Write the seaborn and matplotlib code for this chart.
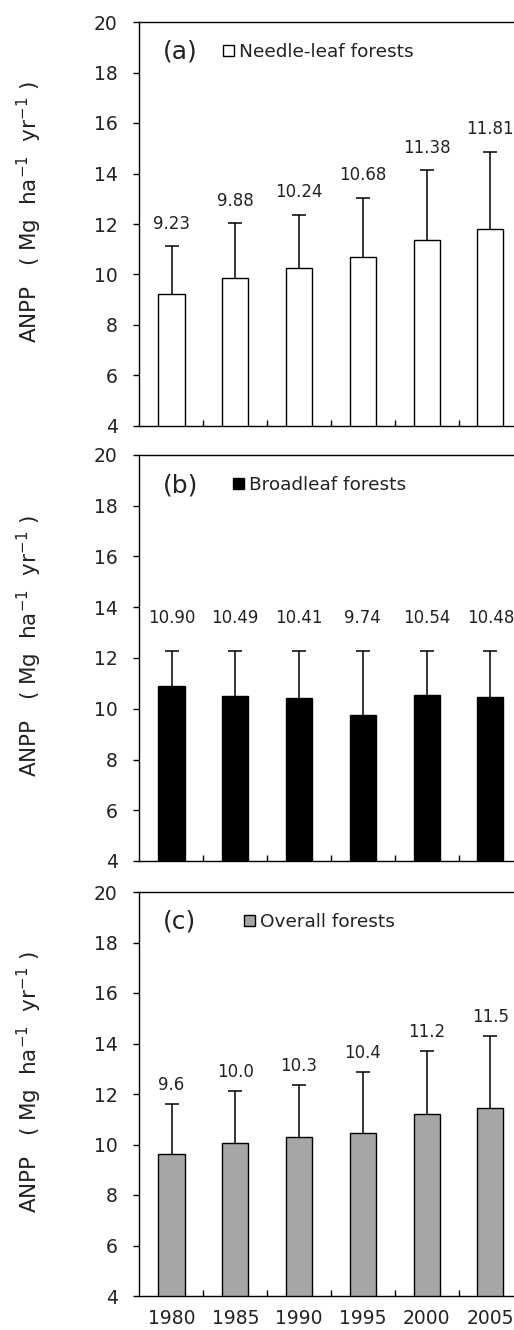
import numpy as np
import pandas as pd
import seaborn as sns
import matplotlib
matplotlib.use("Agg")
import matplotlib.pyplot as plt
from matplotlib.patches import Patch
from matplotlib.ticker import FixedLocator

sns.set_theme(style="ticks")
plt.rcParams["font.family"] = ["DejaVu Sans", "Noto Sans CJK SC"]

# data
years = ["1980", "1985", "1990", "1995", "2000", "2005"]

needle_mean = [9.23, 9.88, 10.24, 10.68, 11.38, 11.81]
needle_err = [1.88, 2.15, 2.12, 2.35, 2.74, 3.06]
needle_text = ["9.23", "9.88", "10.24", "10.68", "11.38", "11.81"]

broad_mean = [10.90, 10.49, 10.41, 9.74, 10.54, 10.48]
broad_err = [1.38, 1.79, 1.87, 2.54, 1.74, 1.80]
broad_text = ["10.90", "10.49", "10.41", "9.74", "10.54", "10.48"]

overall_mean = [9.64, 10.04, 10.30, 10.45, 11.20, 11.45]
overall_err = [1.98, 2.08, 2.07, 2.43, 2.51, 2.84]
overall_text = ["9.6", "10.0", "10.3", "10.4", "11.2", "11.5"]

panels = [
    ("(a)", "Needle-leaf forests", needle_mean, needle_err, needle_text, "white", 0.224, 0.9),
    ("(b)", "Broadleaf forests", broad_mean, broad_err, broad_text, "black", 0.251, 1.28),
    ("(c)", "Overall forests", overall_mean, overall_err, overall_text, "#a6a6a6", 0.28, 0.75),
]

W, H = 514, 1330
fig = plt.figure(figsize=(W / 100, H / 100), dpi=100)

# axes boxes in pixels: top, bottom
boxes = [(22, 426), (455, 861), (892, 1296)]
left_px = 139

for i, (tag, name, mean, err, txt, col, legx, off) in enumerate(panels):
    top, bot = boxes[i]
    ax = fig.add_axes([left_px / W, (H - bot) / H, (W - left_px) / W, (bot - top) / H])
    df = pd.DataFrame({"year": years, "anpp": mean})
    sns.barplot(data=df, x="year", y="anpp", ax=ax, color=col, saturation=1,
                edgecolor="black", linewidth=1.0, width=0.41, errorbar=None)
    xs = np.arange(len(years))
    _, caps, _ = ax.errorbar(xs, mean, yerr=[np.zeros(len(err)), err], fmt="none",
                             ecolor="black", elinewidth=1.1, capsize=5, capthick=1.1,
                             zorder=3)
    # only the upper caps, like the original
    for c in caps:
        if np.allclose(c.get_ydata(), mean):
            c.set_visible(False)
    for x, m, e, t in zip(xs, mean, err, txt):
        ax.text(x, m + e + off, t, ha="center", va="center", fontsize=12, color="#222222")

    ax.set_ylim(4, 20)
    ax.set_xlim(-0.51, 5.37)
    ax.set_yticks(range(4, 21, 2))
    ax.set_xlabel("")
    ax.set_ylabel("")
    for s in ["left", "bottom", "top"]:
        ax.spines[s].set_linewidth(1.0)
        ax.spines[s].set_color("black")
    ax.spines["right"].set_visible(False)
    ax.tick_params(axis="y", direction="out", length=4.3, width=1, labelsize=13.5,
                   colors="black", labelcolor="#222222", pad=11)
    ax.tick_params(axis="x", which="major", length=0, labelsize=13.5,
                   labelcolor="#222222", pad=9)
    ax.xaxis.set_minor_locator(FixedLocator(np.arange(0.5, 5.5, 1)))
    ax.tick_params(axis="x", which="minor", direction="in", length=4, width=1, color="black")
    if i < 2:
        ax.set_xticklabels([])

    ax.text(0.064, 0.926, tag, transform=ax.transAxes, ha="left", va="center",
            fontsize=18, color="#222222")
    handle = Patch(facecolor=col, edgecolor="black", linewidth=1.0)
    ax.legend([handle], [name], loc="center left", bbox_to_anchor=(legx, 0.926),
              frameon=False, borderpad=0, borderaxespad=0, handlelength=0.6,
              handleheight=0.6, handletextpad=0.25, fontsize=13.3,
              labelcolor="#222222")

    fig.text(29 / W, 1 - ((top + bot) / 2 - 12) / H,
             r"ANPP   ( Mg  ha$^{-1}$  yr$^{-1}$ )",
             rotation=90, ha="center", va="center", fontsize=15.5, color="#222222")

fig.savefig("out.png", dpi=100)
